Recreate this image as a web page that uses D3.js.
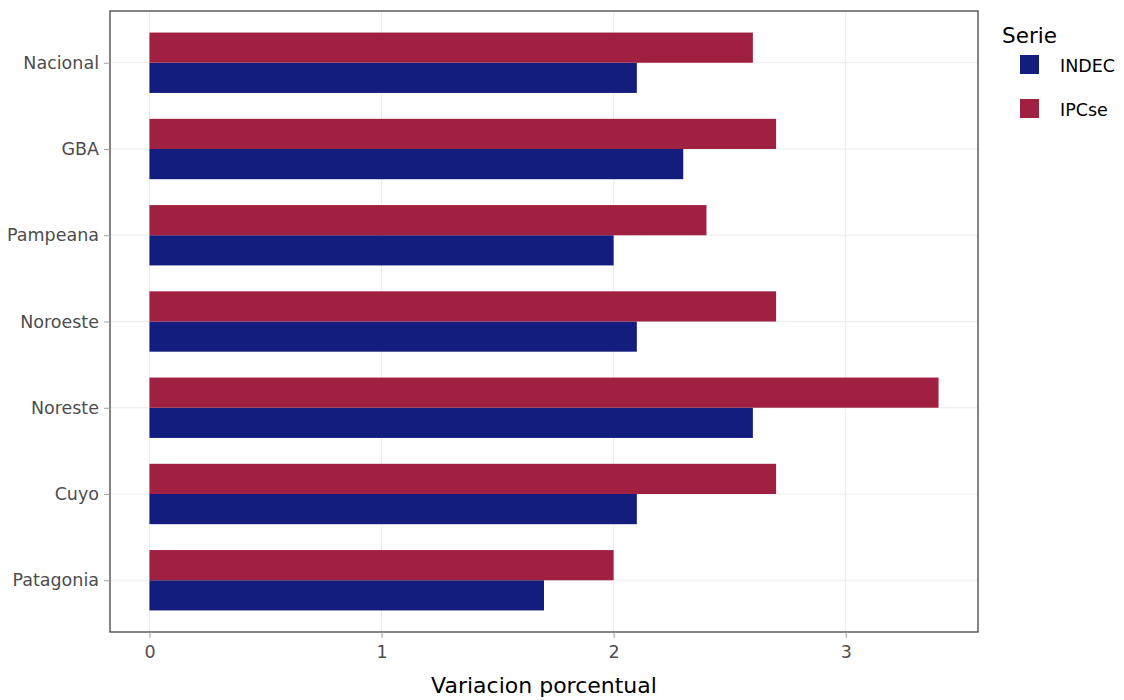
<!DOCTYPE html>
<html lang="es">
<head>
    <meta charset="UTF-8">
    <title>Variacion porcentual por region</title>
    <script src="https://d3js.org/d3.v7.min.js"></script>
    <style>
        body {
            margin: 0;
            padding: 0;
            background-color: #ffffff;
        }

        svg text {
            font-family: "DejaVu Sans", Verdana, sans-serif;
        }

        .axis text {
            font-size: 17.5px;
            fill: #4d4d4d;
        }

        .axis line {
            stroke: #a0a0a0;
        }

        .axis path {
            display: none;
        }

        .grid line {
            stroke: #ebebeb;
            stroke-width: 1;
        }
    </style>
</head>
<body>

<svg id="chart"></svg>

<script>
    // datos
    const regiones = ["Nacional", "GBA", "Pampeana", "Noroeste", "Noreste", "Cuyo", "Patagonia"];
    const series = ["INDEC", "IPCse"];
    const indec = [2.1, 2.3, 2.0, 2.1, 2.6, 2.1, 1.7];
    const ipcse = [2.6, 2.7, 2.4, 2.7, 3.4, 2.7, 2.0];
    const xTicks = [0, 1, 2, 3];
    const colores = { INDEC: "#131d7d", IPCse: "#a02042" };

    const width = 1124;
    const height = 700;
    const margin = { top: 11, right: 146, bottom: 68, left: 110 };

    const svg = d3.select("#chart")
        .attr("width", width)
        .attr("height", height);

    const valores = { INDEC: indec, IPCse: ipcse };
    const data = regiones.flatMap((r, i) => series.map(s => ({ region: r, serie: s, value: valores[s][i] })));

    // escala x con expansion del 5% como ggplot
    const maxVal = d3.max(data, d => d.value);
    const x = d3.scaleLinear()
        .domain([-maxVal * 0.05, maxVal * 1.05])
        .range([margin.left, width - margin.right]);

    // categorias: expansion de 0.6 unidades en cada lado
    const y = d3.scalePoint()
        .domain(regiones)
        .range([margin.top, height - margin.bottom])
        .padding(0.6);
    const barH = y.step() * 0.35;

    // grilla
    const grid = svg.append("g").attr("class", "grid");
    grid.selectAll(".gx")
        .data(xTicks)
        .enter().append("line")
        .attr("x1", d => x(d)).attr("x2", d => x(d))
        .attr("y1", margin.top).attr("y2", height - margin.bottom);
    grid.selectAll(".gy")
        .data(regiones)
        .enter().append("line")
        .attr("x1", margin.left).attr("x2", width - margin.right)
        .attr("y1", d => y(d))
        .attr("y2", d => y(d));

    // barras: IPCse arriba, INDEC abajo
    svg.append("g")
        .selectAll("rect")
        .data(data)
        .enter().append("rect")
        .attr("x", x(0))
        .attr("y", d => d.serie === "IPCse" ? y(d.region) - barH : y(d.region))
        .attr("width", d => x(d.value) - x(0))
        .attr("height", barH)
        .attr("fill", d => colores[d.serie]);

    // borde del panel
    svg.append("rect")
        .attr("x", margin.left)
        .attr("y", margin.top)
        .attr("width", width - margin.left - margin.right)
        .attr("height", height - margin.top - margin.bottom)
        .attr("fill", "none")
        .attr("stroke", "#444")
        .attr("stroke-width", 1.3);

    // ejes
    svg.append("g")
        .attr("class", "axis")
        .attr("transform", `translate(0,${height - margin.bottom})`)
        .call(d3.axisBottom(x).tickValues(xTicks).tickFormat(d3.format("d")).tickSize(6).tickPadding(8))
        .attr("font-family", null)
        .attr("font-size", null);

    svg.append("g")
        .attr("class", "axis")
        .attr("transform", `translate(${margin.left},0)`)
        .call(d3.axisLeft(y).tickSize(6).tickPadding(5))
        .attr("font-family", null)
        .attr("font-size", null);

    // titulo eje x
    svg.append("text")
        .attr("x", (margin.left + width - margin.right) / 2)
        .attr("y", 693)
        .attr("text-anchor", "middle")
        .style("font-size", "22px")
        .style("fill", "#000")
        .text("Variacion porcentual");

    // leyenda
    const legend = svg.append("g").attr("transform", "translate(1002,0)");
    legend.append("text")
        .attr("x", 0)
        .attr("y", 43)
        .style("font-size", "21.5px")
        .style("fill", "#000")
        .text("Serie");

    const items = legend.selectAll(".item")
        .data(series)
        .enter().append("g")
        .attr("transform", (d, i) => `translate(0,${55 + i * 44})`);
    items.append("rect")
        .attr("x", 18)
        .attr("y", 0)
        .attr("width", 19)
        .attr("height", 19)
        .attr("fill", d => colores[d]);
    items.append("text")
        .attr("x", 58)
        .attr("y", 17)
        .style("font-size", "17.5px")
        .style("fill", "#000")
        .text(d => d);
</script>

</body>
</html>
